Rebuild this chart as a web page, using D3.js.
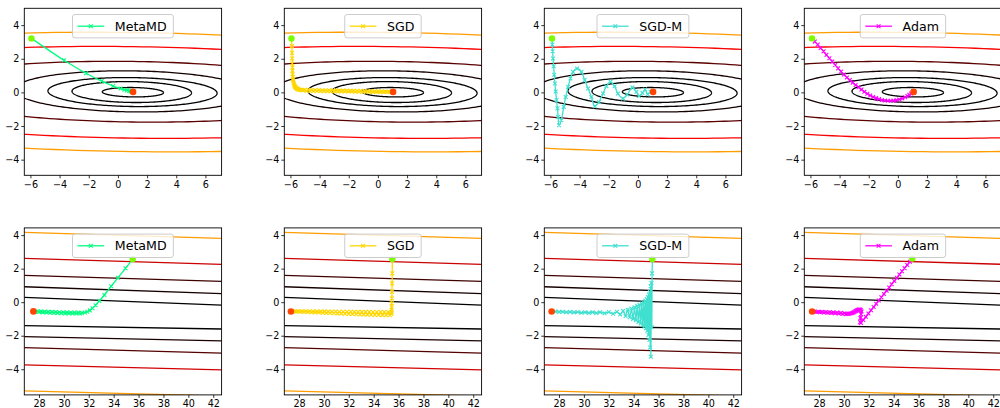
<!DOCTYPE html>
<html><head><meta charset="utf-8">
<script src="https://cdn.jsdelivr.net/npm/d3@7"></script>
<style>
html,body{margin:0;padding:0;background:#fff;}
svg{display:block;}
text{font-family:"DejaVu Sans",sans-serif;}
</style></head><body>
<svg id="chart" width="1000" height="408"></svg>
<script>
// ---------------- data ----------------
const methods = ["MetaMD", "SGD", "SGD-M", "Adam"];
const topXTicks = [-6, -4, -2, 0, 2, 4, 6];
const bottomXTicks = [28, 30, 32, 34, 36, 38, 40, 42];
const yTicks = [-4, -2, 0, 2, 4];
const topXDomain = [-6.42, 7.11];
const topYDomain = [-4.93, 5.0];
const bottomXDomain = [26.82, 42.67];
const bottomYDomain = [-5.53, 4.43];

// top-row contour ellipses: [cx, cy, rx, ry, level]
const topContours = [
  [1.03, 0.01, 2.1, 0.28, 0.0],
  [0.95, 0.02, 4.1, 0.62, 0.0],
  [1.0, 0.02, 5.8, 0.86, 0.0],
  [1.0, 0.06, 8.1, 1.22, 0.03],
  [1.0, 0.04, 14.8, 1.80, 0.13],
  [1.0, 0.0, 23.4, 2.72, 0.36],
  [1.0, 0.02, 29.0, 3.54, 0.6]
];
const topContourTilt = -0.012;
// bottom-row contour lines: [y at left x-limit, y at right x-limit, level]
const bottomContours = [
  [4.16, 3.80, 0.6],
  [2.61, 2.26, 0.29],
  [1.60, 1.24, 0.09],
  [0.92, 0.51, 0.03],
  [0.29, -0.18, 0.0],
  [-1.40, -1.60, 0.0],
  [-2.05, -2.31, 0.04],
  [-2.71, -3.04, 0.12],
  [-3.74, -4.04, 0.3],
  [-5.29, -5.60, 0.6]
];

// trajectories (top row)
const metamdTop = [[-5.93,3.21],[-3.70,1.91],[-2.19,1.14],[-1.11,0.67],[-0.33,0.38],[0.18,0.23],[0.45,0.16],[0.63,0.12],[0.77,0.09],[0.87,0.07],[0.95,0.05],[1.0,0.04],[1.04,0.03]];
const sgdTop = [[-5.93,3.21],[-5.90,2.75],[-5.89,2.35],[-5.88,2.02],[-5.87,1.72],[-5.86,1.48],[-5.86,1.28],[-5.85,1.09],[-5.84,0.92],[-5.82,0.78],[-5.80,0.66],[-5.78,0.56],[-5.75,0.47],[-5.72,0.40],[-5.68,0.33],[-5.63,0.28],[-5.58,0.24],[-5.52,0.21],[-5.45,0.18],[-5.38,0.16],[-5.30,0.15],[-5.22,0.14],[-5.14,0.13],
  [-5.02,0.15],[-4.90,0.09],[-4.78,0.15],[-4.66,0.09],[-4.54,0.14],[-4.42,0.08],[-4.30,0.14],[-4.18,0.08],[-4.06,0.14],[-3.94,0.08],[-3.82,0.13],[-3.70,0.07],[-3.58,0.13],[-3.46,0.07],[-3.34,0.13],[-3.22,0.07],[-3.10,0.12],[-2.98,0.06],[-2.86,0.12],[-2.74,0.06],[-2.62,0.11],[-2.50,0.06],[-2.38,0.11],[-2.26,0.05],[-2.14,0.11],[-2.02,0.05],[-1.90,0.10],[-1.78,0.05],[-1.66,0.10],[-1.54,0.04],[-1.42,0.09],[-1.30,0.04],[-1.18,0.09],[-1.06,0.04],[-0.94,0.08],[-0.82,0.03],[-0.70,0.08],[-0.58,0.03],[-0.46,0.07],[-0.34,0.02],[-0.22,0.07],[-0.10,0.02],[0.02,0.06],[0.14,0.02],[0.26,0.06],[0.38,0.02],[0.50,0.05],[0.62,0.02],[0.74,0.05],[0.86,0.02],[0.96,0.04],[1.04,0.03]];
const sgdmTop = [[-5.89,3.21],[-5.87,2.85],[-5.85,2.45],[-5.82,2.02],[-5.78,1.55],[-5.74,1.05],[-5.69,0.53],[-5.64,0.05],[-5.58,-0.46],[-5.52,-0.95],[-5.47,-1.45],[-5.41,-1.95],[-5.25,-1.65],[-5.09,-0.86],[-4.95,-0.27],[-4.79,0.33],[-4.63,0.83],[-4.45,1.22],[-4.17,1.42],[-3.87,1.22],[-3.65,0.73],[-3.42,0.23],[-3.19,-0.27],[-2.96,-0.82],[-2.67,-0.57],[-2.39,-0.07],[-2.16,0.37],[-1.88,0.63],[-1.60,0.37],[-1.37,-0.07],[-1.02,-0.36],[-0.73,-0.13],[-0.38,0.29],[-0.10,0.03],[0.08,-0.21],[0.31,-0.03],[0.49,0.17],[0.67,-0.11],[0.86,0.03],[1.04,0.03]];
const adamTop = [[-5.89,3.21],[-5.70,3.02],[-5.50,2.84],[-5.30,2.64],[-5.10,2.44],[-4.90,2.23],[-4.70,2.03],[-4.50,1.83],[-4.30,1.63],[-4.10,1.43],[-3.90,1.24],[-3.70,1.06],[-3.50,0.89],[-3.30,0.73],[-3.10,0.58],[-2.90,0.44],[-2.70,0.31],[-2.50,0.17],[-2.30,0.04],[-2.10,-0.08],[-1.90,-0.18],[-1.70,-0.27],[-1.50,-0.34],[-1.30,-0.40],[-1.10,-0.45],[-0.90,-0.48],[-0.70,-0.50],[-0.50,-0.50],[-0.30,-0.49],[-0.10,-0.46],[0.10,-0.42],[0.30,-0.36],[0.50,-0.29],[0.65,-0.21],[0.78,-0.14],[0.90,-0.07],[1.00,-0.01],[1.08,0.03]];

// trajectories (bottom row)
const metamdBottom = [[35.53,2.57],[34.95,2.02],[34.35,1.46],[33.80,0.95],[33.25,0.43],[32.85,0.07],[32.55,-0.18],[32.30,-0.36],[32.08,-0.49],[31.88,-0.57],[31.68,-0.62],[31.45,-0.64],
  [31.30,-0.68],[31.15,-0.62],[31.00,-0.68],[30.85,-0.62],[30.70,-0.68],[30.55,-0.62],[30.40,-0.67],[30.25,-0.61],[30.10,-0.67],[29.95,-0.60],[29.80,-0.66],[29.65,-0.60],[29.50,-0.65],[29.35,-0.59],[29.20,-0.64],[29.05,-0.58],[28.90,-0.63],[28.75,-0.57],[28.60,-0.62],[28.45,-0.56],[28.30,-0.61],[28.15,-0.55],[28.00,-0.59],[27.85,-0.54],[27.70,-0.57],[27.55,-0.55]];
const sgdBottom = [[35.50,2.57],[35.49,1.72],[35.48,1.12],[35.47,0.63],[35.46,0.23],[35.45,-0.07],[35.45,-0.30],[35.44,-0.47],[35.44,-0.60],[35.43,-0.70],
  [35.30,-0.78],[35.15,-0.59],[35.00,-0.77],[34.85,-0.59],[34.70,-0.77],[34.55,-0.59],[34.40,-0.76],[34.25,-0.59],[34.10,-0.76],[33.95,-0.59],[33.80,-0.75],[33.65,-0.58],[33.50,-0.75],[33.35,-0.58],[33.20,-0.74],[33.05,-0.58],[32.90,-0.73],[32.75,-0.58],[32.60,-0.72],[32.45,-0.58],[32.30,-0.71],[32.15,-0.57],[32.00,-0.70],[31.85,-0.57],[31.70,-0.69],[31.55,-0.57],[31.40,-0.68],[31.25,-0.57],[31.10,-0.67],[30.95,-0.56],[30.80,-0.66],[30.65,-0.56],[30.50,-0.65],[30.35,-0.56],[30.20,-0.64],[30.05,-0.55],[29.90,-0.63],[29.75,-0.55],[29.60,-0.62],[29.45,-0.55],[29.30,-0.61],[29.15,-0.55],[29.00,-0.60],[28.85,-0.54],[28.70,-0.59],[28.55,-0.54],[28.40,-0.58],[28.25,-0.54],[28.10,-0.57],[27.95,-0.54],[27.80,-0.56],[27.65,-0.55],[27.50,-0.56],[27.35,-0.56]];
const sgdmBottom = [[35.50,2.57],[35.48,1.72],[35.46,-1.50],[35.43,1.15],[35.38,-3.25],[35.36,0.95],[35.33,-2.70],[35.30,0.62],[35.27,-2.25],[35.23,0.45],[35.19,-1.95],[35.15,0.30],[35.10,-1.70],[35.05,0.18],[34.99,-1.55],[34.93,0.08],[34.86,-1.45],[34.79,0.00],[34.72,-1.36],[34.64,-0.08],[34.56,-1.27],[34.47,-0.15],[34.38,-1.18],[34.28,-0.22],[34.18,-1.08],[34.07,-0.30],[33.95,-1.00],[33.82,-0.38],[33.68,-0.90],[33.52,-0.45],[33.35,-0.82],[33.15,-0.52],[32.92,-0.74],[32.65,-0.57],[32.35,-0.69],[32.00,-0.59],[31.65,-0.66],
  [31.30,-0.60],[31.00,-0.65],[30.70,-0.60],[30.40,-0.64],[30.10,-0.60],[29.80,-0.63],[29.50,-0.59],[29.20,-0.61],[28.90,-0.58],[28.60,-0.60],[28.30,-0.57],[28.00,-0.58],[27.70,-0.56],[27.41,-0.56]];
const adamBottom = [[35.50,2.60],[35.30,2.41],[35.09,2.22],[34.88,2.03],[34.67,1.84],[34.46,1.65],[34.26,1.45],[34.05,1.26],[33.84,1.07],[33.64,0.87],[33.43,0.68],[33.22,0.49],[33.01,0.29],[32.80,0.10],[32.60,-0.09],[32.39,-0.29],[32.18,-0.48],[31.97,-0.68],[31.76,-0.87],[31.56,-1.06],[31.38,-1.24],[31.30,-1.20],[31.33,-0.95],[31.38,-0.72],[31.42,-0.55],[31.36,-0.47],[31.30,-0.44],[31.22,-0.44],[31.15,-0.45],[31.06,-0.48],[30.98,-0.52],[30.89,-0.56],[30.80,-0.60],[30.71,-0.63],[30.62,-0.66],[30.51,-0.68],[30.40,-0.69],[30.30,-0.71],[30.20,-0.70],
  [30.05,-0.66],[29.90,-0.70],[29.75,-0.64],[29.60,-0.68],[29.45,-0.62],[29.30,-0.66],[29.15,-0.61],[29.00,-0.65],[28.85,-0.60],[28.70,-0.63],[28.55,-0.59],[28.40,-0.62],[28.25,-0.58],[28.10,-0.60],[27.95,-0.57],[27.80,-0.59],[27.65,-0.56],[27.45,-0.56]];

// ---------------- styles / layout ----------------
const seriesColors = ["#00ff7f", "#ffd700", "#40e0d0", "#ff00ff"];
const startColor = "#7cfc00", endColor = "#ff4500";
const panelLefts = [24.3, 284.3, 544.3, 804.3];
const panelW = 197.3, panelH = 167;
const rowTops = [8.3, 227.9];
const hot = d3.scaleLinear().domain([0, 0.365, 0.746, 1]).range(["#000000", "#ff0000", "#ffff00", "#ffffff"]).clamp(true);

const svg = d3.select("#chart");
const defs = svg.append("defs");

function drawPanel(row, col) {
  const left = panelLefts[col], top = rowTops[row];
  const g = svg.append("g").attr("transform", `translate(${left},${top})`);
  const xDom = row === 0 ? topXDomain : bottomXDomain;
  const yDom = row === 0 ? topYDomain : bottomYDomain;
  const x = d3.scaleLinear().domain(xDom).range([0, panelW]);
  const y = d3.scaleLinear().domain(yDom).range([panelH, 0]);
  const clipId = `clip-${row}-${col}`;
  defs.append("clipPath").attr("id", clipId).append("rect").attr("width", panelW).attr("height", panelH);
  const plot = g.append("g").attr("clip-path", `url(#${clipId})`);

  // contours
  const line = d3.line().x(d => x(d[0])).y(d => y(d[1]));
  if (row === 0) {
    const c = Math.cos(topContourTilt), s = Math.sin(topContourTilt);
    topContours.forEach(([cx, cy, rx, ry, lev]) => {
      const pts = d3.range(0, 241).map(i => {
        const t = i / 240 * 2 * Math.PI;
        const dx = rx * Math.cos(t), dy = ry * Math.sin(t);
        return [cx + dx * c - dy * s, cy + dx * s + dy * c];
      });
      plot.append("path").attr("d", line(pts)).attr("fill", "none")
        .attr("stroke", hot(lev)).attr("stroke-width", 1.3);
    });
  } else {
    bottomContours.forEach(([yl, yr, lev]) => {
      plot.append("path").attr("d", line([[xDom[0], yl], [xDom[1], yr]])).attr("fill", "none")
        .attr("stroke", hot(lev)).attr("stroke-width", 1.3);
    });
  }

  // trajectory
  const data = (row === 0 ? [metamdTop, sgdTop, sgdmTop, adamTop] : [metamdBottom, sgdBottom, sgdmBottom, adamBottom])[col];
  const color = seriesColors[col];
  const pathGen = d3.line().x(d => x(d[0])).y(d => y(d[1]))
    .curve(row === 0 ? d3.curveCatmullRom.alpha(0.5) : d3.curveLinear);
  plot.append("path").attr("d", pathGen(data)).attr("fill", "none")
    .attr("stroke", color).attr("stroke-width", 1.3);
  const ms = 1.9;
  const mk = data.map(d => {
    const px = x(d[0]), py = y(d[1]);
    return `M${px - ms},${py - ms}L${px + ms},${py + ms}M${px - ms},${py + ms}L${px + ms},${py - ms}`;
  }).join("");
  plot.append("path").attr("d", mk).attr("stroke", color).attr("stroke-width", 1.1).attr("fill", "none");
  // start / end
  const st = data[0], en = data[data.length - 1];
  plot.append("circle").attr("cx", x(st[0])).attr("cy", y(st[1])).attr("r", 3.2).attr("fill", startColor);
  plot.append("circle").attr("cx", x(en[0])).attr("cy", y(en[1])).attr("r", 3.3).attr("fill", endColor);

  // legend
  const lg = g.append("g");
  const txt = lg.append("text").text(methods[col]).attr("font-size", 12.6).attr("fill", "#000");
  const tw = txt.node().getComputedTextLength();
  const bw = tw + 49, bh = 23.4;
  const bx = panelW / 2 - bw / 2, by = 6.2;
  lg.insert("rect", "text").attr("x", bx).attr("y", by).attr("width", bw).attr("height", bh)
    .attr("rx", 2.5).attr("fill", "#fff").attr("fill-opacity", 0.8)
    .attr("stroke", "#cccccc").attr("stroke-width", 1);
  const ly = by + bh / 2;
  lg.append("line").attr("x1", bx + 5).attr("x2", bx + 31.6).attr("y1", ly).attr("y2", ly)
    .attr("stroke", color).attr("stroke-width", 1.3);
  const mx = bx + 18.3;
  lg.append("path").attr("d", `M${mx - ms},${ly - ms}L${mx + ms},${ly + ms}M${mx - ms},${ly + ms}L${mx + ms},${ly - ms}`)
    .attr("stroke", color).attr("stroke-width", 1.1);
  txt.attr("x", bx + 42.3).attr("y", ly + 4.6);

  // axes
  const xt = row === 0 ? topXTicks : bottomXTicks;
  const fmt = d3.format("d");
  const xa = g.append("g").attr("transform", `translate(0,${panelH})`)
    .call(d3.axisBottom(x).tickValues(xt).tickSize(3).tickPadding(2.5).tickFormat(fmt));
  const ya = g.append("g")
    .call(d3.axisLeft(y).tickValues(yTicks).tickSize(3).tickPadding(2).tickFormat(fmt));
  [xa, ya].forEach(a => {
    a.select(".domain").remove();
    a.selectAll("line").attr("stroke", "#000").attr("stroke-width", 0.8);
    a.selectAll("text").attr("font-size", 9.6).attr("fill", "#000")
      .attr("font-family", "DejaVu Sans, sans-serif");
  });
  // spines
  g.append("rect").attr("width", panelW).attr("height", panelH)
    .attr("fill", "none").attr("stroke", "#000").attr("stroke-width", 0.9);
}

for (let r = 0; r < 2; r++) for (let c = 0; c < 4; c++) drawPanel(r, c);
</script>
</body></html>
